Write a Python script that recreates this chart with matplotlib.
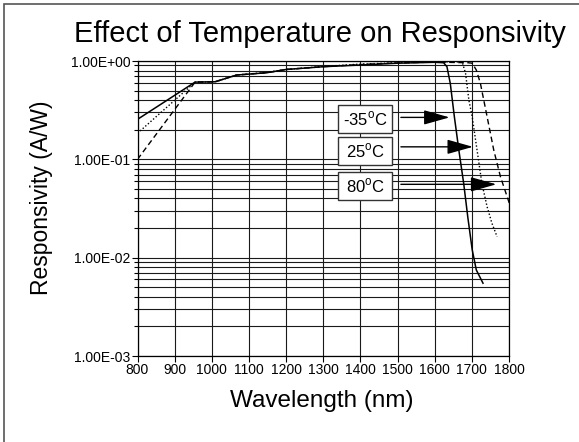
'''
Effect of temperature on responsivity (InGaAs photodiode)
'''

import matplotlib
matplotlib.use('Agg')
import matplotlib.pyplot as plt
from matplotlib.patches import Rectangle
from matplotlib.ticker import LogLocator, FuncFormatter, NullFormatter, MultipleLocator

plt.rcParams['font.family'] = ['Liberation Sans', 'DejaVu Sans']
plt.rcParams['mathtext.fontset'] = 'custom'
plt.rcParams['mathtext.rm'] = 'Liberation Sans'

# -35 C (solid)
wl_m35 = [800, 955, 1009, 1067, 1103, 1148, 1200, 1300, 1400, 1500, 1600, 1624,
          1633, 1642, 1653, 1665, 1678, 1689, 1701, 1712, 1730]
resp_m35 = [0.255, 0.61, 0.615, 0.72, 0.737, 0.76, 0.82, 0.875, 0.91, 0.95, 0.97, 0.96,
            0.875, 0.59, 0.27, 0.124, 0.057, 0.026, 0.012, 0.0075, 0.0055]

# 25 C (dotted)
wl_25 = [800, 955, 1009, 1067, 1103, 1148, 1200, 1300, 1400, 1500, 1600, 1674,
         1683, 1692, 1701, 1714, 1727, 1741, 1754, 1768]
resp_25 = [0.184, 0.61, 0.615, 0.72, 0.74, 0.765, 0.82, 0.88, 0.93, 0.96, 0.98, 0.98,
           0.75, 0.40, 0.27, 0.124, 0.057, 0.033, 0.0224, 0.0163]

# 80 C (dashed)
wl_80 = [800, 955, 1009, 1067, 1103, 1148, 1200, 1300, 1400, 1500, 1600, 1690,
         1701, 1712, 1723, 1741, 1759, 1777, 1795, 1801]
resp_80 = [0.1, 0.61, 0.615, 0.72, 0.737, 0.76, 0.82, 0.875, 0.92, 0.955, 0.975, 0.96,
           0.95, 0.81, 0.593, 0.272, 0.124, 0.0665, 0.0417, 0.0356]

labels = ['-35$^{\\rm o}$C', '25$^{\\rm o}$C', '80$^{\\rm o}$C']
arrow_tips = [(1640, 0.267), (1703, 0.134), (1766, 0.0557)]

fig = plt.figure(figsize=(5.79, 4.42), dpi=100)
ax = fig.add_axes([137.5 / 579, 1 - 356 / 442, 371.5 / 579, 295 / 442])

ax.plot(wl_m35, resp_m35, color='black', lw=1.1, ls='-')
ax.plot(wl_25, resp_25, color='black', lw=1.0, ls=(0, (1, 1.5)))
ax.plot(wl_80, resp_80, color='black', lw=1.0, ls=(0, (4, 2.5)))

ax.set_yscale('log')
ax.set_xlim(800, 1800)
ax.set_ylim(1e-3, 1)
ax.xaxis.set_major_locator(MultipleLocator(100))
ax.yaxis.set_major_locator(LogLocator(base=10))
ax.yaxis.set_minor_locator(LogLocator(base=10, subs=range(2, 10)))
ax.yaxis.set_major_formatter(FuncFormatter(lambda v, p: f'{v:.2E}'))
ax.yaxis.set_minor_formatter(NullFormatter())
ax.tick_params(axis='both', which='major', labelsize=10, length=4, width=0.8,
               pad=1, direction='out', color='black')
ax.tick_params(axis='y', which='minor', length=3, width=0.8)
ax.grid(True, which='both', color='#1a1a1a', lw=0.8)
ax.set_axisbelow(True)
for sp in ax.spines.values():
    sp.set_linewidth(0.9)

# label boxes with arrows
box_tops = [105, 137.3, 171.7]
for lab, top, tip in zip(labels, box_tops, arrow_tips):
    y0 = (356 - top) / 295
    h = 28 / 295
    x0 = (338 - 137.5) / 371.5
    w = 54 / 371.5
    ax.add_patch(Rectangle((x0, y0 - h), w, h, transform=ax.transAxes,
                           facecolor='white', edgecolor='#333333', lw=1.0, zorder=5))
    ax.text(x0 + w / 2, y0 - h / 2, lab, transform=ax.transAxes, ha='center',
            va='center', fontsize=12, zorder=6)
    ax.annotate('', xy=tip, xytext=(1509, tip[1]),
                arrowprops=dict(arrowstyle='-|>,head_length=1.6,head_width=0.45',
                                color='black', lw=1.0, shrinkA=0, shrinkB=0),
                zorder=6)

fig.text(319.5 / 579, 1 - 41.7 / 442, 'Effect of Temperature on Responsivity',
         ha='center', va='baseline', fontsize=21)
fig.text(321.5 / 579, 1 - 407 / 442, 'Wavelength (nm)', ha='center',
         va='baseline', fontsize=17.5)
fig.text(42 / 579, 1 - 198 / 442, 'Responsivity (A/W)', ha='center',
         va='center', rotation=90, fontsize=16.5)

# outer frame
fig.patches.append(Rectangle((4 / 579, -0.2), 1.2, 1.2 - 4 / 442,
                             transform=fig.transFigure, fill=False,
                             edgecolor='#555555', lw=1.2))

fig.savefig('out.png', dpi=100)
